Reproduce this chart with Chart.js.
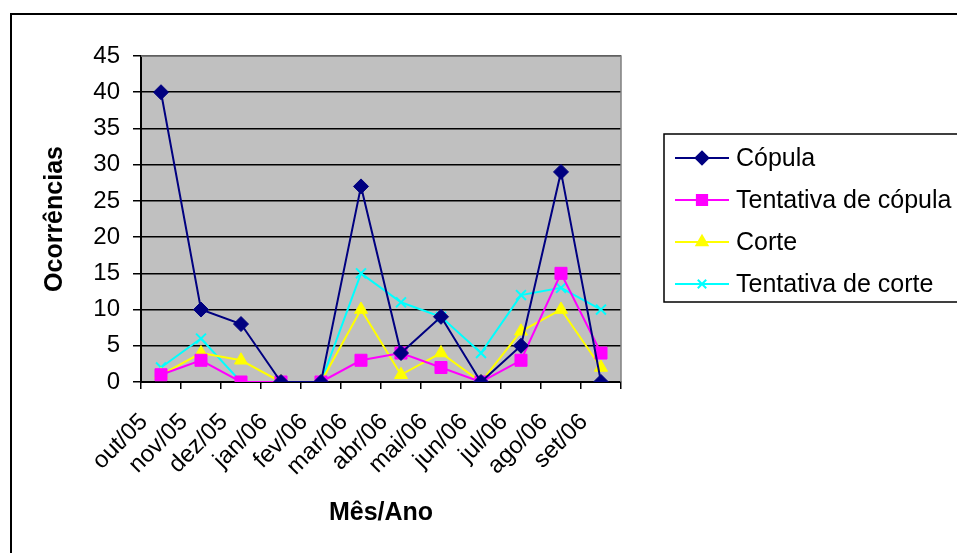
<!DOCTYPE html>
<html>
<head>
<meta charset="utf-8">
<script src="https://cdn.jsdelivr.net/npm/chart.js@4"></script>
<style>
  html, body { margin: 0; padding: 0; background: #fff; }
  #wrap { width: 957px; height: 553px; }
</style>
</head>
<body>
<div id="wrap"><canvas id="graph" width="957" height="553"></canvas></div>
<script>
const categories = ['out/05', 'nov/05', 'dez/05', 'jan/06', 'fev/06', 'mar/06', 'abr/06', 'mai/06', 'jun/06', 'jul/06', 'ago/06', 'set/06']
const copula = [40, 10, 8, 0, 0, 27, 4, 9, 0, 5, 29, 0]
const tentativaCopula = [1, 3, 0, 0, 0, 3, 4, 2, 0, 3, 15, 4]
const corte = [1, 4, 3, 0, 0, 10, 1, 4, 0, 7, 10, 2]
const tentativaCorte = [2, 6, 0, 0, 0, 15, 11, 9, 4, 12, 13, 10]
const yTicks = [0, 5, 10, 15, 20, 25, 30, 35, 40, 45]

const FONT = '"Liberation Sans", Arial, sans-serif'

// grey plot background + outer frame
const frame = {
    id: 'frame',
    beforeDraw(chart) {
        const c = chart.ctx, a = chart.chartArea
        c.save()
        c.fillStyle = '#fff'
        c.fillRect(0, 0, chart.width, chart.height)
        c.fillStyle = '#c0c0c0'
        c.fillRect(a.left, a.top, a.right - a.left, a.bottom - a.top)
        c.strokeStyle = '#000'
        c.lineWidth = 2
        c.beginPath()
        c.moveTo(11, chart.height + 5)
        c.lineTo(11, 14)
        c.lineTo(chart.width + 5, 14)
        c.stroke()
        c.restore()
    },
    afterDatasetsDraw(chart) {
        const c = chart.ctx, a = chart.chartArea
        c.save()
        c.strokeStyle = '#808080'
        c.lineWidth = 1.5
        c.beginPath()
        c.moveTo(a.left, a.top)
        c.lineTo(a.right, a.top)
        c.lineTo(a.right, a.bottom)
        c.stroke()
        c.restore()
    }
}

// legend box on the right, like the spreadsheet one
const boxLegend = {
    id: 'boxLegend',
    afterDraw(chart) {
        const c = chart.ctx
        c.save()
        c.strokeStyle = '#000'
        c.lineWidth = 1.5
        c.strokeRect(664, 134, 320, 168)
        c.font = '25px ' + FONT
        c.textBaseline = 'middle'
        chart.data.datasets.forEach((ds, i) => {
            const y = 158 + i * 42
            c.strokeStyle = ds.borderColor
            c.lineWidth = 2
            c.beginPath()
            c.moveTo(675, y)
            c.lineTo(729, y)
            c.stroke()
            c.fillStyle = ds.borderColor
            Chart.helpers.drawPoint(c, {
                pointStyle: ds.pointStyle, radius: ds.pointRadius * 0.85, borderWidth: ds.pointBorderWidth
            }, 702, y)
            c.fillStyle = '#000'
            c.fillText(ds.label, 736, y + 1)
        })
        c.restore()
    }
}

function serie(label, data, color, style, radius) {
    return {
        label: label,
        data: data,
        borderColor: color,
        backgroundColor: color,
        borderWidth: 2,
        pointStyle: style,
        pointRadius: radius,
        pointHoverRadius: radius,
        pointBorderColor: color,
        pointBackgroundColor: color,
        pointBorderWidth: style === 'crossRot' ? 2 : 1,
        tension: 0
    }
}

new Chart(document.getElementById('graph').getContext('2d'), {
    type: 'line',
    data: {
        labels: categories,
        datasets: [
            serie('Cópula', copula, '#000080', 'rectRot', 7.5),
            serie('Tentativa de cópula', tentativaCopula, '#ff00ff', 'rect', 8.5),
            serie('Corte', corte, '#ffff00', 'triangle', 7.5),
            serie('Tentativa de corte', tentativaCorte, '#00ffff', 'crossRot', 7)
        ]
    },
    options: {
        responsive: false,
        animation: false,
        devicePixelRatio: 1,
        layout: { padding: { left: 0, top: 56, right: 336, bottom: 0 } },
        plugins: {
            legend: { display: false },
            tooltip: { enabled: false }
        },
        scales: {
            x: {
                offset: true,
                afterFit: s => { s.height = 171 },
                grid: { drawOnChartArea: false, drawTicks: true, tickLength: 7, color: '#000', lineWidth: 1.5, offset: true },
                border: { color: '#000', width: 2 },
                ticks: {
                    minRotation: 45, maxRotation: 45, autoSkip: false,
                    color: '#000', font: { family: FONT, size: 24 },
                    padding: 19, labelOffset: -17
                },
                title: {
                    display: true, text: 'Mês/Ano', color: '#000',
                    font: { family: FONT, size: 25, weight: 'bold' },
                    padding: { top: 0, bottom: 25 }
                }
            },
            y: {
                min: 0, max: 45,
                afterFit: s => { s.width = 141 },
                afterBuildTicks: s => { s.ticks = yTicks.map(v => ({ value: v })) },
                grid: { color: '#000', lineWidth: 1.5, tickLength: 8 },
                border: { color: '#000', width: 2 },
                ticks: { color: '#000', font: { family: FONT, size: 24 }, padding: 13 },
                title: {
                    display: true, text: 'Ocorrências', color: '#000',
                    font: { family: FONT, size: 25, weight: 'bold' },
                    padding: { top: 40, bottom: 0 }
                }
            }
        }
    },
    plugins: [frame, boxLegend]
})
</script>
</body>
</html>
